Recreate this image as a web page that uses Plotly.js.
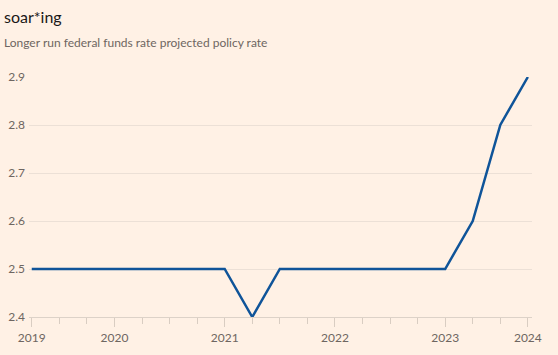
<!DOCTYPE html>
<html>
<head>
<meta charset="utf-8">
<script src="https://cdn.plot.ly/plotly-3.0.1.min.js"></script>
<style>html,body{margin:0;padding:0;background:#FFF1E5;}#chart{width:558px;height:355px;}</style>
</head>
<body>
<div id="chart"></div>
<script>
// Longer run federal funds rate, successive projections (evenly spaced)
const pointIndex = [0,1,2,3,4,5,6,7,8,9,10,11,12,13,14,15,16,17,18];
const rateValues = [2.5,2.5,2.5,2.5,2.5,2.5,2.5,2.5,2.4,2.5,2.5,2.5,2.5,2.5,2.5,2.5,2.6,2.8,2.9];
const yearTickPos = [0,3,7,11,15,18];
const yearTickLabels = ['2019','2020','2021','2022','2023','2024'];

const font = 'Lato, "Open Sans", sans-serif';
const grey = '#6e6661';

Plotly.newPlot('chart', [{
  x: pointIndex, y: rateValues, type: 'scatter', mode: 'lines',
  line: {color: '#0F5499', width: 2.5}, hoverinfo: 'skip'
}], {
  width: 558, height: 355,
  paper_bgcolor: '#FFF1E5', plot_bgcolor: '#FFF1E5',
  margin: {l: 29, r: 26, t: 77, b: 38},
  showlegend: false,
  title: {text: 'soar*ing', xref: 'container', yref: 'container', x: 4/558, y: 1 - 17/355,
          xanchor: 'left', yanchor: 'middle', font: {family: font, size: 16, color: '#1a1817'}},
  annotations: [{
    text: 'Longer run federal funds rate projected policy rate', xref: 'paper', yref: 'paper',
    x: -27/503, y: (317-42)/240, xanchor: 'left', yanchor: 'middle', showarrow: false,
    font: {family: font, size: 12, color: grey}
  }],
  xaxis: {
    range: [-0.1, 18.15], tickmode: 'array', tickvals: yearTickPos, ticktext: yearTickLabels,
    ticks: 'outside', ticklen: 9, tickcolor: '#d9cdc2', tickwidth: 1,
    minor: {tickmode: 'linear', tick0: 0, dtick: 1, ticks: 'outside', ticklen: 6, tickcolor: '#d9cdc2', tickwidth: 1},
    showline: true, linecolor: '#ddd2c8', linewidth: 1,
    showgrid: false, zeroline: false, ticklabelstandoff: 1,
    tickfont: {family: font, size: 12, color: grey}
  },
  yaxis: {
    range: [2.4, 2.9], tickmode: 'linear', tick0: 2.4, dtick: 0.1, tickformat: '.1f',
    showgrid: true, gridcolor: '#ece0d6', gridwidth: 1, zeroline: false, showline: false,
    ticks: '', ticklabelstandoff: 3,
    tickfont: {family: font, size: 12, color: grey}
  }
}, {staticPlot: true});
</script>
</body>
</html>
